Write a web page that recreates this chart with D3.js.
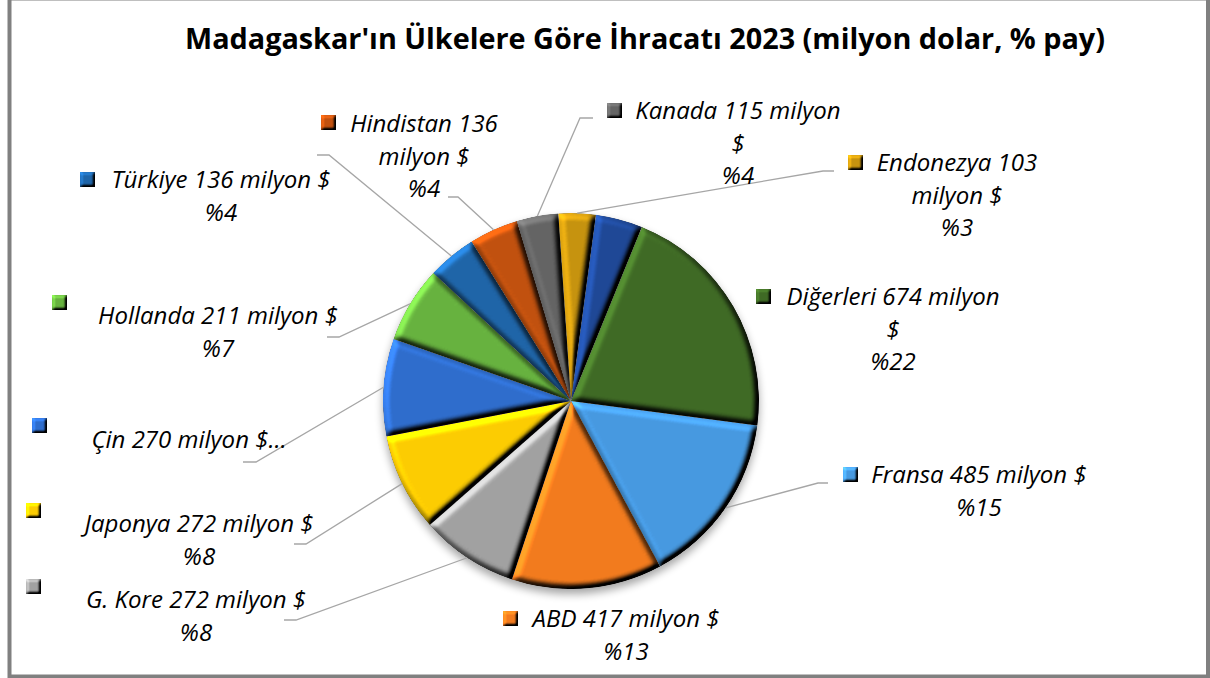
<!DOCTYPE html>
<html>
<head>
<meta charset="utf-8">
<script src="https://cdn.jsdelivr.net/npm/d3@7"></script>
<style>
body { margin: 0; background: #fff; }
svg { display: block; }
</style>
</head>
<body>
<svg id="chart" width="1210" height="678"></svg>
<script>
// data, clockwise from the first slice (Excel order)
var countries = ["Fransa", "ABD", "G. Kore", "Japonya", "Çin", "Hollanda", "Türkiye", "Hindistan", "Kanada", "Endonezya", "", "Diğerleri"];
var values = [485, 417, 272, 272, 270, 211, 136, 136, 115, 103, 130, 674];
var shares = [15, 13, 8, 8, 8, 7, 4, 4, 4, 3, 4, 22];
var colors = ["#4799e0", "#f27b1e", "#a1a1a1", "#fccc02", "#2f6dcc", "#67b23f",
              "#1f65a8", "#c1510f", "#646464", "#c6930f", "#1f4896", "#3f6a25"];

// label placement (index into the data arrays)
var labelLayout = [
  {i: 0,  key: [843, 467], x: 979, y: 483, wrap: [4], leader: [[828, 483], [818, 483]]},
  {i: 1,  key: [503, 611], x: 626, y: 627, wrap: [4]},
  {i: 2,  key: [26, 579],  x: 196, y: 608, wrap: [4], leader: [[284, 620], [296, 620]]},
  {i: 3,  key: [26, 503],  x: 199, y: 532, wrap: [4], leader: [[294, 544], [306, 544]]},
  {i: 4,  key: [32, 418],  x: 189, y: 448, wrap: [4], cut: true, leader: [[243, 462], [256, 462]]},
  {i: 5,  key: [52, 295],  x: 218, y: 324, wrap: [4], leader: [[327, 337], [339, 337]]},
  {i: 6,  key: [80, 172],  x: 221, y: 188, wrap: [4], leader: [[317, 155], [329, 155]]},
  {i: 7,  key: [321, 115], x: 424, y: 132, wrap: [2, 2], leader: [[448, 197], [458, 197]]},
  {i: 8,  key: [607, 103], x: 738, y: 119, wrap: [3, 1], leader: [[593, 118], [580, 118]]},
  {i: 9,  key: [848, 155], x: 957, y: 171, wrap: [2, 2], leader: [[834, 171], [823, 171]]},
  {i: 11, key: [756, 289], x: 893, y: 305, wrap: [3, 1]}
];

var svg = d3.select("#chart"),
    width = +svg.attr("width"),
    height = +svg.attr("height"),
    cx = 571, cy = 401, radius = 188,
    lineH = 32.5,
    startDeg = 97.5;

var defs = svg.append("defs");

// excel-like bevel: light from the top left on a blurred alpha bump
function bevel(id, blur, scale) {
  var f = defs.append("filter").attr("id", id)
      .attr("x", "-10%").attr("y", "-10%").attr("width", "120%").attr("height", "120%")
      .attr("color-interpolation-filters", "sRGB");
  f.append("feGaussianBlur").attr("in", "SourceAlpha").attr("stdDeviation", blur).attr("result", "blur");
  f.append("feDiffuseLighting").attr("in", "blur").attr("surfaceScale", scale)
      .attr("diffuseConstant", 1).attr("lighting-color", "#fff").attr("result", "light")
    .append("feDistantLight").attr("azimuth", 225).attr("elevation", 45);
  f.append("feComposite").attr("in", "SourceGraphic").attr("in2", "light")
      .attr("operator", "arithmetic").attr("k1", 1.414).attr("k2", 0).attr("k3", 0).attr("k4", 0)
      .attr("result", "lit");
  f.append("feComposite").attr("in", "lit").attr("in2", "SourceAlpha").attr("operator", "in");
}
bevel("bevel", 3, 6);
bevel("bevelKey", 1.5, 3);

defs.append("filter").attr("id", "shadow").attr("x", "-20%").attr("y", "-20%").attr("width", "140%").attr("height", "140%")
  .append("feGaussianBlur").attr("stdDeviation", 4);

// chart frame
svg.append("rect")
    .attr("x", 9.5).attr("y", -1.5)
    .attr("width", width - 11.5).attr("height", height)
    .attr("fill", "#fff")
    .attr("stroke", "#808080")
    .attr("stroke-width", 4);

svg.append("text")
    .attr("x", 645).attr("y", 49)
    .attr("text-anchor", "middle")
    .attr("font-family", "'Open Sans', sans-serif")
    .attr("font-weight", "bold")
    .attr("font-size", 28.8)
    .attr("fill", "#000")
    .text("Madagaskar'ın Ülkelere Göre İhracatı 2023 (milyon dolar, % pay)");

var pie = d3.pie()
    .sort(null)
    .startAngle(startDeg * Math.PI / 180)
    .endAngle(startDeg * Math.PI / 180 + 2 * Math.PI);
var arc = d3.arc().innerRadius(0).outerRadius(radius);
var arcs = pie(values);

var g = svg.append("g").attr("transform", "translate(" + cx + "," + cy + ")");

g.append("circle")
    .attr("cx", 0).attr("cy", 5)
    .attr("r", radius)
    .attr("fill", "#000")
    .attr("opacity", 0.35)
    .attr("filter", "url(#shadow)");

g.selectAll("path.slice")
  .data(arcs)
  .enter().append("path")
    .attr("class", "slice")
    .attr("d", arc)
    .attr("fill", function(d, i) { return colors[i]; })
    .attr("filter", "url(#bevel)");

// leader lines
svg.append("g")
  .selectAll("polyline")
  .data(labelLayout.filter(function(l) { return l.leader; }))
  .enter().append("polyline")
    .attr("fill", "none")
    .attr("stroke", "#a6a6a6")
    .attr("stroke-width", 1.3)
    .attr("points", function(l) {
      var d = arcs[l.i],
          p = d3.pointRadial((d.startAngle + d.endAngle) / 2, radius);
      return l.leader.concat([[cx + p[0], cy + p[1]]]).join(" ");
    });

// data labels
var labels = svg.append("g")
    .attr("font-family", "'Open Sans', sans-serif")
    .attr("font-style", "italic")
    .attr("font-size", 24)
    .attr("fill", "#000")
  .selectAll("g")
  .data(labelLayout)
  .enter().append("g");

labels.append("rect")
    .attr("x", function(l) { return l.key[0]; })
    .attr("y", function(l) { return l.key[1]; })
    .attr("width", 15)
    .attr("height", 15)
    .attr("fill", function(l) { return colors[l.i]; })
    .attr("filter", "url(#bevelKey)");

labels.each(function(l) {
  var words = [countries[l.i], values[l.i], "milyon", "$"],
      lines = [], k = 0;
  l.wrap.forEach(function(n) { lines.push(words.slice(k, k + n).join(" ")); k += n; });
  if (l.cut) lines[lines.length - 1] += "…";
  else lines.push("%" + shares[l.i]);
  d3.select(this).selectAll("text")
    .data(lines)
    .enter().append("text")
      .attr("x", l.x)
      .attr("y", function(t, j) { return l.y + j * lineH; })
      .attr("text-anchor", "middle")
      .text(function(t) { return t; });
});
</script>
</body>
</html>
